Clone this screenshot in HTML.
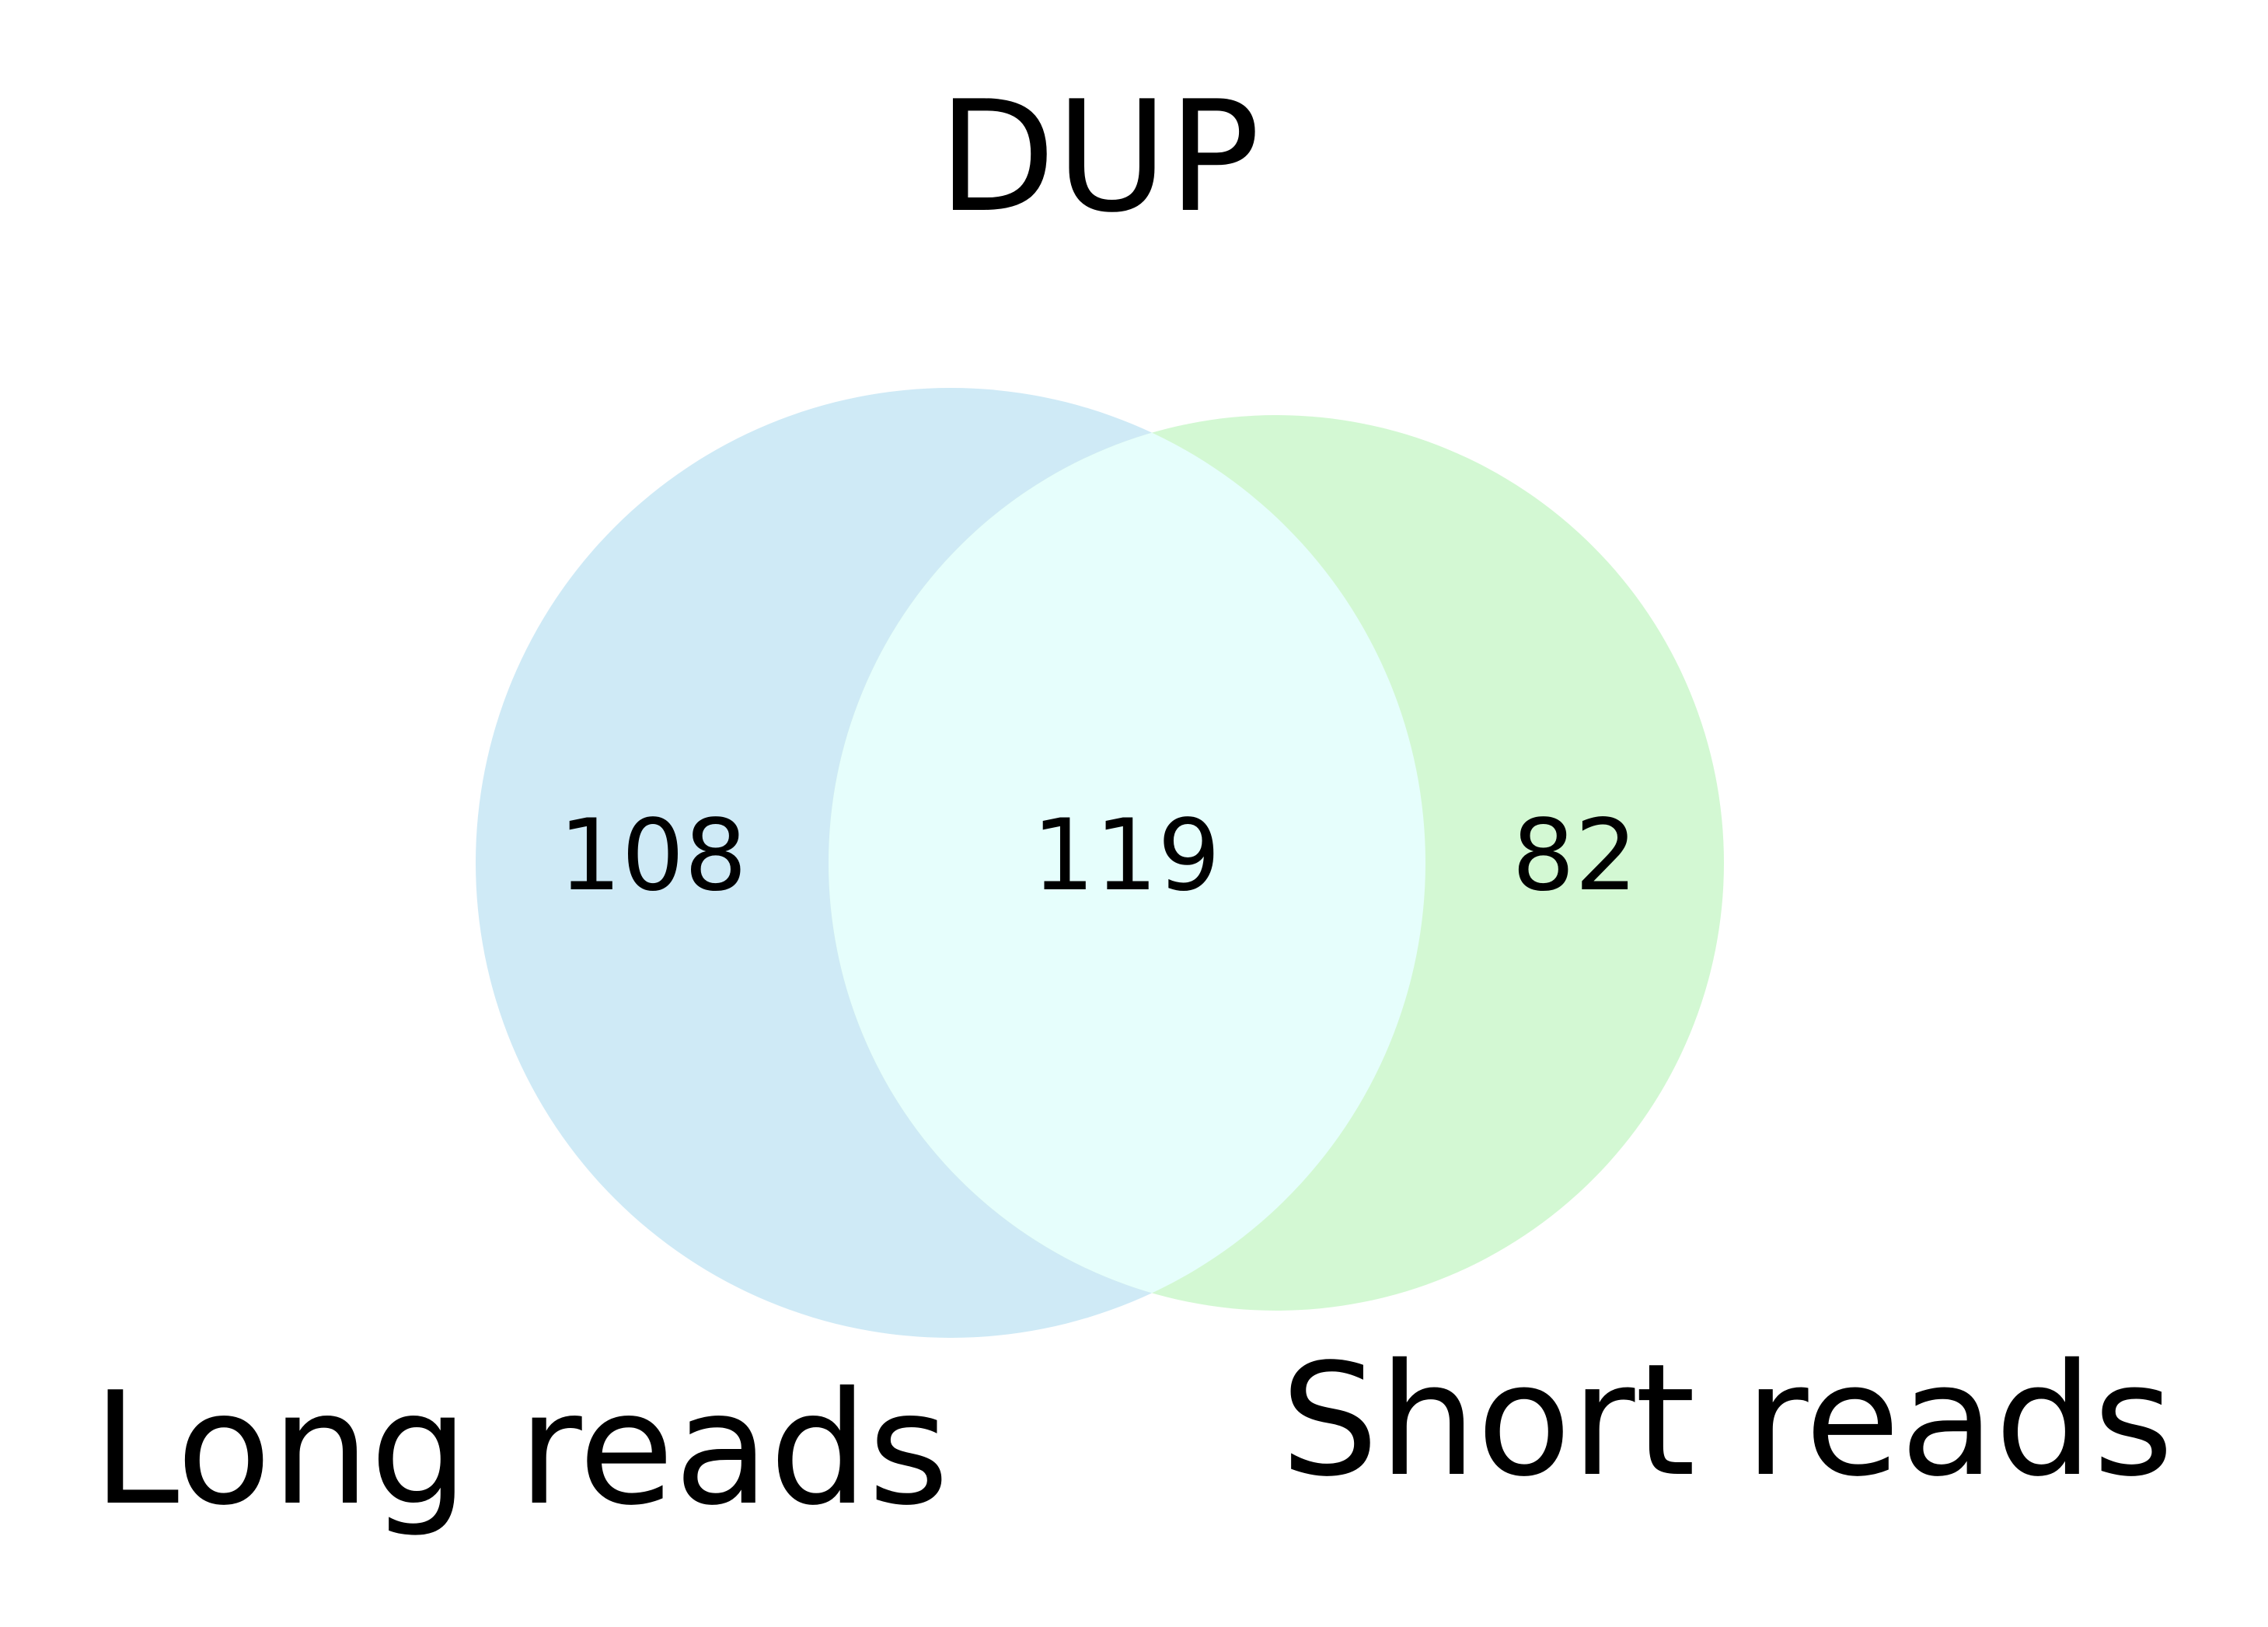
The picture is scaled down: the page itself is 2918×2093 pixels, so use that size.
<!DOCTYPE html>
<html><head><meta charset="utf-8"><style>html,body{margin:0;padding:0;background:#fff}svg{display:block}text{font-family:"DejaVu Sans","Liberation Sans",sans-serif;fill:#000}</style></head>
<body>
<svg id="chart" width="2918" height="2093" viewBox="0 0 2918 2093" xmlns="http://www.w3.org/2000/svg">
<rect width="2918" height="2093" fill="#fff"/>
<text x="1414" y="270" font-size="197" text-anchor="middle">DUP</text>
<g id="marks"></g>
</svg>
<script>
const setNames = ["Long reads", "Short reads"];
const regionCounts = [108, 119, 82];
const circleRadii = [611, 576];
const circleColors = ["#cfeaf6", "#d3f8d3"];
const overlapColor = "#e6fefc";
const NS = "http://www.w3.org/2000/svg";
const g = document.getElementById("marks");
const cy = 1110;
const c1 = 1223, c2 = 1642;
const r1 = circleRadii[0], r2 = circleRadii[1];
function mk(tag, attrs){const e=document.createElementNS(NS,tag);for(const k in attrs)e.setAttribute(k,attrs[k]);g.appendChild(e);return e;}
const defs = mk("defs",{});
const cp = document.createElementNS(NS,"clipPath"); cp.setAttribute("id","clipA"); defs.appendChild(cp);
const cc = document.createElementNS(NS,"circle"); cc.setAttribute("cx",c1); cc.setAttribute("cy",cy); cc.setAttribute("r",r1); cp.appendChild(cc);
const a = mk("circle",{cx:c1,cy:cy,r:r1,fill:circleColors[0]});


const b = mk("circle",{cx:c2,cy:cy,r:r2,fill:circleColors[1]});


const o = mk("circle",{cx:c2,cy:cy,r:r2,fill:overlapColor,"clip-path":"url(#clipA)"});


const numX = [840, 1449, 2026];
const regNames = ["count-long-only","count-both","count-short-only"];
regionCounts.forEach((v,i)=>{
  const t = mk("text",{x:numX[i],y:1144,"font-size":127,"text-anchor":"middle"});
  t.textContent = v;
  
  
});
const l1 = mk("text",{x:670,y:1933,"font-size":200,"text-anchor":"middle"});
l1.textContent = setNames[0];


const l2 = mk("text",{x:2222,y:1896,"font-size":199,"text-anchor":"middle"});
l2.textContent = setNames[1];


</script>
</body></html>
